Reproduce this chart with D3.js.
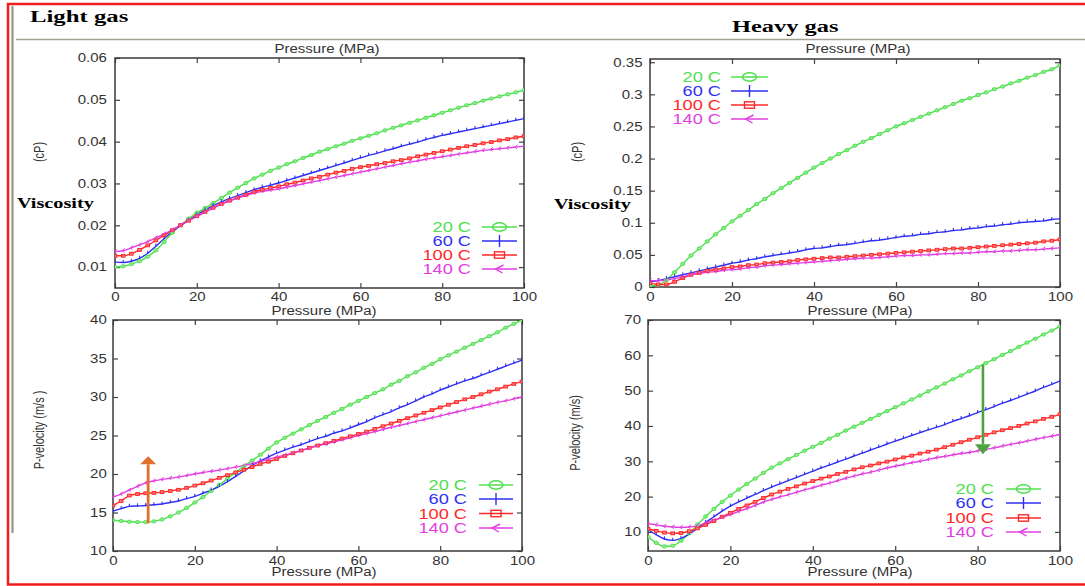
<!DOCTYPE html>
<html>
<head>
<meta charset="utf-8">
<script src="https://cdn.jsdelivr.net/npm/d3@7"></script>
<style>
  html, body { margin: 0; padding: 0; background: #fff; }
  svg { display: block; }
</style>
</head>
<body>
<svg id="fig" width="1085" height="586"></svg>
<script>
// ---------- data ----------
const pressure = [0,2,4,6,8,10,12,14,16,18,20,22,24,26,28,30,32,34,36,38,40,42,44,46,48,50,
  52,54,56,58,60,62,64,66,68,70,72,74,76,78,80,82,84,86,88,90,92,94,96,98,100];
const temperatures = ["20 C", "60 C", "100 C", "140 C"];
const xTicks = [0, 20, 40, 60, 80, 100];

// Light gas viscosity (cP)
const lightVisc20 = [.0100,.0102,.0107,.0114,.0125,.0140,.0160,.0182,.0200,.0216,.0230,.0241,.0253,.0265,.0278,.0290,.0301,.0312,.0321,.0330,.0338,
  .0346,.0353,.0361,.0368,.0376,.0382,.0389,.0395,.0402,.0408,.0414,.0420,.0427,.0433,.0439,.0445,.0451,.0457,.0463,.0469,
  .0475,.0481,.0487,.0492,.0498,.0503,.0508,.0513,.0518,.0523];
const lightVisc60 = [.0112,.0111,.0114,.0121,.0133,.0150,.0168,.0185,.0199,.0212,.0225,.0236,.0247,.0256,.0264,.0271,.0278,.0285,.0291,.0296,.0301,
  .0307,.0313,.0319,.0325,.0331,.0337,.0343,.0349,.0355,.0361,.0367,.0372,.0378,.0383,.0389,.0394,.0399,.0405,.0410,.0415,
  .0419,.0423,.0427,.0431,.0435,.0439,.0443,.0447,.0451,.0455];
const lightVisc100 = [.0127,.0127,.0132,.0141,.0152,.0164,.0176,.0188,.0200,.0211,.0222,.0232,.0242,.0251,.0259,.0266,.0273,.0280,.0285,.0289,.0293,
  .0298,.0302,.0307,.0312,.0316,.0321,.0326,.0330,.0335,.0339,.0342,.0346,.0349,.0353,.0356,.0360,.0365,.0369,.0373,.0377,
  .0381,.0385,.0389,.0392,.0396,.0399,.0403,.0406,.0410,.0413];
const lightVisc140 = [.0137,.0139,.0146,.0153,.0161,.0170,.0179,.0189,.0200,.0211,.0221,.0231,.0241,.0250,.0258,.0265,.0271,.0277,.0281,.0284,.0287,
  .0291,.0295,.0299,.0303,.0307,.0311,.0315,.0319,.0323,.0327,.0331,.0335,.0339,.0343,.0347,.0351,.0354,.0358,.0361,.0364,
  .0367,.0370,.0373,.0376,.0379,.0381,.0383,.0385,.0387,.0389];

// Heavy gas viscosity (cP)
const heavyVisc20 = [.002,.003,.011,.023,.036,.049,.060,.071,.082,.092,.102,.111,.120,.129,.137,.146,.154,.162,.170,.178,.186,
  .193,.200,.207,.213,.220,.226,.232,.238,.244,.250,.255,.260,.265,.270,.275,.280,.285,.290,.294,.299,
  .303,.308,.312,.317,.321,.326,.330,.335,.339,.345];
const heavyVisc60 = [.008,.010,.013,.016,.019,.022,.025,.028,.031,.034,.037,.039,.042,.044,.047,.049,.051,.053,.055,.058,.060,
  .061,.063,.065,.066,.068,.070,.072,.073,.075,.077,.079,.080,.082,.083,.085,.086,.088,.089,.091,.092,
  .094,.095,.097,.098,.100,.101,.102,.103,.105,.106];
const heavyVisc100 = [.006,.004,.004,.008,.014,.019,.022,.025,.027,.029,.031,.032,.034,.035,.037,.038,.039,.040,.042,.043,.044,
  .045,.046,.046,.047,.048,.049,.050,.051,.052,.053,.054,.055,.056,.057,.058,.059,.060,.060,.061,.062,
  .063,.064,.065,.066,.067,.068,.069,.071,.072,.074];
const heavyVisc140 = [.010,.010,.011,.013,.016,.019,.021,.023,.024,.026,.027,.028,.030,.031,.033,.034,.035,.036,.037,.038,.039,
  .040,.041,.042,.043,.044,.045,.045,.046,.047,.048,.049,.049,.050,.050,.051,.052,.052,.053,.053,.054,
  .055,.055,.056,.056,.057,.058,.058,.059,.060,.061];

// Light gas P-velocity (m/s)
const lightVel20 = [14.0,13.9,13.8,13.75,13.75,13.85,14.1,14.5,15.0,15.6,16.3,17.0,17.8,18.6,19.4,20.2,21.0,21.75,22.5,23.3,24.1,
  24.7,25.25,25.8,26.35,26.9,27.4,27.95,28.45,29.0,29.5,30.0,30.5,31.0,31.6,32.1,32.7,33.2,33.8,34.3,34.9,
  35.4,35.9,36.4,36.9,37.4,37.9,38.4,39.0,39.5,40.0];
const lightVel60 = [15.2,15.5,15.8,15.85,15.9,16.0,16.1,16.3,16.5,16.8,17.1,17.5,17.9,18.4,19.0,19.7,20.4,21.1,21.7,22.2,22.7,
  23.1,23.5,23.8,24.2,24.6,24.9,25.3,25.6,26.0,26.4,26.8,27.3,27.7,28.1,28.6,29.0,29.5,30.0,30.4,30.9,
  31.3,31.7,32.1,32.4,32.8,33.2,33.6,34.0,34.4,34.8];
const lightVel100 = [15.9,16.5,17.2,17.4,17.5,17.55,17.65,17.8,17.95,18.2,18.5,18.8,19.15,19.5,19.85,20.2,20.55,20.9,21.3,21.6,21.95,
  22.35,22.7,23.05,23.4,23.7,24.0,24.3,24.6,24.9,25.2,25.5,25.85,26.2,26.55,26.9,27.25,27.6,27.95,28.3,28.65,
  29.0,29.35,29.7,30.0,30.35,30.7,31.0,31.35,31.7,32.0];
const lightVel140 = [17.0,17.4,17.9,18.4,18.85,19.1,19.3,19.45,19.6,19.8,20.0,20.2,20.35,20.5,20.7,20.9,21.1,21.35,21.6,21.9,22.2,
  22.45,22.75,23.05,23.35,23.65,23.9,24.15,24.45,24.7,25.0,25.25,25.5,25.8,26.05,26.3,26.55,26.8,27.05,27.3,27.55,
  27.8,28.05,28.3,28.55,28.8,29.05,29.3,29.5,29.75,30.0];

// Heavy gas P-velocity (m/s)
const heavyVel20 = [8.6,6.9,5.9,6.1,7.5,9.6,12.1,14.4,16.5,18.5,20.3,22.0,23.6,25.1,26.7,28.2,29.4,30.6,31.8,33.0,34.1,
  35.2,36.4,37.5,38.7,39.8,40.9,42.0,43.1,44.2,45.3,46.4,47.5,48.6,49.8,50.9,52.0,53.2,54.3,55.5,56.6,
  57.8,58.9,60.1,61.2,62.4,63.6,64.7,65.9,67.0,68.2];
const heavyVel60 = [10.7,9.2,8.0,7.6,8.2,9.4,11.0,12.7,14.3,15.9,17.3,18.5,19.6,20.6,21.7,22.7,23.6,24.5,25.4,26.3,27.2,
  28.1,28.9,29.8,30.6,31.5,32.3,33.2,34.0,34.9,35.7,36.5,37.3,38.1,38.9,39.6,40.4,41.3,42.1,42.9,43.8,
  44.6,45.5,46.4,47.2,48.1,49.0,49.9,50.9,51.8,52.7];
const heavyVel100 = [10.9,10.3,9.8,9.6,9.7,10.2,11.0,12.0,13.1,14.3,15.4,16.5,17.5,18.5,19.6,20.6,21.4,22.2,22.9,23.7,24.4,
  25.1,25.7,26.4,27.0,27.7,28.3,28.8,29.4,29.9,30.5,31.1,31.6,32.2,32.7,33.3,34.0,34.7,35.4,36.1,36.8,
  37.5,38.2,38.8,39.4,40.0,40.7,41.3,42.0,42.6,43.3];
const heavyVel140 = [12.3,12.0,11.6,11.4,11.3,11.4,11.8,12.5,13.3,14.1,14.9,15.8,16.6,17.5,18.4,19.2,19.9,20.5,21.2,21.9,22.5,
  23.2,23.8,24.5,25.2,25.8,26.4,26.9,27.5,28.1,28.6,29.1,29.6,30.0,30.5,31.0,31.4,31.8,32.2,32.5,32.9,
  33.4,33.8,34.3,34.8,35.2,35.7,36.2,36.7,37.1,37.6];

// Axis ticks
const lightViscTicks = [0.01, 0.02, 0.03, 0.04, 0.05, 0.06];
const heavyViscTicks = [0, 0.05, 0.1, 0.15, 0.2, 0.25, 0.3, 0.35];
const lightVelTicks = [10, 15, 20, 25, 30, 35, 40];
const heavyVelTicks = [10, 20, 30, 40, 50, 60, 70];

// ---------- styling ----------
const colors = ["#4ee04e", "#2f2ff3", "#ff2828", "#e23ee2"];
const SANS = "'Liberation Sans', Arial, Helvetica, sans-serif";
const SERIF = "'Liberation Serif', 'Times New Roman', serif";
const SX = 1.25; // horizontal text stretch of the figure

const svg = d3.select("#fig");

function txt(g, x, y, s, o = {}) {
  const rot = o.rotate ? ` rotate(${o.rotate})` : "";
  return g.append("text")
    .attr("transform", `translate(${x},${y}) scale(${o.sx ?? SX},1)${rot}`)
    .attr("text-anchor", o.anchor || "middle")
    .attr("dominant-baseline", "central")
    .attr("font-family", o.family || SANS)
    .attr("font-size", o.size || 12)
    .attr("font-weight", o.weight || "normal")
    .attr("fill", o.fill || "#333")
    .text(s);
}

// ---------- page decoration ----------
svg.append("line").attr("x1", 12.5).attr("y1", 6).attr("x2", 12.5).attr("y2", 533)
  .attr("stroke", "#8e8e80").attr("stroke-width", 2);
svg.append("line").attr("x1", 16).attr("y1", 39.5).attr("x2", 1085).attr("y2", 39.5)
  .attr("stroke", "#a2a294").attr("stroke-width", 1.5);
svg.append("path").attr("d", "M1085,4 H8 V584.5 H1085")
  .attr("fill", "none").attr("stroke", "#f21c1c").attr("stroke-width", 2.5);

txt(svg, 30, 17, "Light gas", { family: SERIF, weight: "bold", size: 16.5, anchor: "start", sx: 1.5, fill: "#000" });
txt(svg, 732, 26, "Heavy gas", { family: SERIF, weight: "bold", size: 16.5, anchor: "start", sx: 1.48, fill: "#000" });

// ---------- marker shapes ----------
function curveMarker(g, i, x, y) {
  const c = colors[i];
  if (i === 0) {
    g.append("ellipse").attr("cx", x).attr("cy", y).attr("rx", 2.1).attr("ry", 1.6)
      .attr("fill", "#8cf08c").attr("stroke", c).attr("stroke-width", 1);
  } else if (i === 1) {
    g.append("line").attr("x1", x).attr("x2", x).attr("y1", y - 2.6).attr("y2", y + 0.6)
      .attr("stroke", c).attr("stroke-width", 1.1);
  } else if (i === 2) {
    g.append("rect").attr("x", x - 1.8).attr("y", y - 1.4).attr("width", 3.6).attr("height", 2.8)
      .attr("fill", "#ff7a7a").attr("stroke", c).attr("stroke-width", 1);
  } else {
    g.append("path").attr("d", `M${x + 1.8},${y - 2.2} L${x - 1.2},${y} L${x + 1.2},${y + 1.6}`)
      .attr("fill", "none").attr("stroke", c).attr("stroke-width", 1);
  }
}

function legendMarker(g, i, x, y) {
  const c = colors[i];
  if (i === 0) {
    g.append("ellipse").attr("cx", x).attr("cy", y).attr("rx", 7).attr("ry", 4.2)
      .attr("fill", "none").attr("stroke", c).attr("stroke-width", 1.4);
  } else if (i === 1) {
    g.append("line").attr("x1", x).attr("x2", x).attr("y1", y - 6).attr("y2", y + 6)
      .attr("stroke", c).attr("stroke-width", 1.4);
  } else if (i === 2) {
    g.append("rect").attr("x", x - 5).attr("y", y - 3.2).attr("width", 10).attr("height", 6.4)
      .attr("fill", "none").attr("stroke", c).attr("stroke-width", 1.4);
  } else {
    g.append("path").attr("d", `M${x + 4},${y - 4} L${x - 4},${y} L${x + 3},${y + 4}`)
      .attr("fill", "none").attr("stroke", c).attr("stroke-width", 1.4);
  }
}

// ---------- panels ----------
const panels = [
  { id: "lv", xr: [115, 524], yd: [0.005, 0.06], yr: [288, 58], yticks: lightViscTicks,
    fmt: d => String(+d.toFixed(2)),
    series: [lightVisc20, lightVisc60, lightVisc100, lightVisc140],
    xPad: 4, yPad: 6.5,
    legend: { right: 471, lx0: 482, lx1: 517, rows: [227, 241, 255, 269] } },
  { id: "hv", xr: [650, 1060], yd: [0, 0.355], yr: [287, 59], yticks: heavyViscTicks,
    fmt: d => String(+d.toFixed(2)),
    series: [heavyVisc20, heavyVisc60, heavyVisc100, heavyVisc140],
    xPad: 5, yPad: 6,
    legend: { right: 721, lx0: 731, lx1: 768, rows: [77, 91, 105, 119] } },
  { id: "lp", xr: [113, 522], yd: [10, 40], yr: [551, 320], yticks: lightVelTicks,
    fmt: d3.format("d"),
    series: [lightVel20, lightVel60, lightVel100, lightVel140],
    xPad: 5, yPad: 5,
    legend: { right: 467, lx0: 479, lx1: 513, rows: [485, 499, 513.5, 528] } },
  { id: "hp", xr: [648, 1060], yd: [4.6, 70], yr: [551, 320], yticks: heavyVelTicks,
    fmt: d3.format("d"),
    series: [heavyVel20, heavyVel60, heavyVel100, heavyVel140],
    xPad: 5, yPad: 5.6,
    legend: { right: 994, lx0: 1006, lx1: 1041, rows: [489, 503, 518, 532] } }
];

const scales = {};

panels.forEach(p => {
  const x = d3.scaleLinear().domain([0, 100]).range(p.xr);
  const y = d3.scaleLinear().domain(p.yd).range(p.yr);
  scales[p.id] = { x, y };
  const g = svg.append("g");

  svg.append("clipPath").attr("id", "clip-" + p.id).append("rect")
    .attr("x", p.xr[0]).attr("y", p.yr[1]).attr("width", p.xr[1] - p.xr[0]).attr("height", p.yr[0] - p.yr[1]);

  // axes with inward ticks on all four sides
  const styleAxis = sel => {
    sel.select(".domain").remove();
    sel.selectAll(".tick line").attr("stroke", "#444").attr("stroke-width", 1.2);
    sel.selectAll(".tick text").attr("font-family", SANS).attr("font-size", 12).attr("fill", "#333");
  };
  g.append("g").attr("transform", `translate(0,${p.yr[0]})`)
    .call(d3.axisBottom(x).tickValues(xTicks).tickSize(-5).tickPadding(p.xPad).tickFormat(d3.format("d")))
    .call(styleAxis)
    .selectAll(".tick text").attr("transform", `scale(${SX},1)`);
  g.append("g").attr("transform", `translate(0,${p.yr[1]})`)
    .call(d3.axisTop(x).tickValues(xTicks).tickSize(-5).tickFormat(""))
    .call(styleAxis);
  g.append("g").attr("transform", `translate(${p.xr[0]},0)`)
    .call(d3.axisLeft(y).tickValues(p.yticks).tickSize(-5).tickPadding(p.yPad).tickFormat(p.fmt))
    .call(styleAxis)
    .selectAll(".tick text").attr("transform", `scale(${SX},1)`);
  g.append("g").attr("transform", `translate(${p.xr[1]},0)`)
    .call(d3.axisRight(y).tickValues(p.yticks).tickSize(-5).tickFormat(""))
    .call(styleAxis);

  // frame
  g.append("rect").attr("x", p.xr[0]).attr("y", p.yr[1])
    .attr("width", p.xr[1] - p.xr[0]).attr("height", p.yr[0] - p.yr[1])
    .attr("fill", "none").attr("stroke", "#3a3a3a").attr("stroke-width", 1.5);

  // curves with point markers
  const plot = g.append("g").attr("clip-path", `url(#clip-${p.id})`);
  const line = d3.line().x((d, i) => x(pressure[i])).y(d => y(d)).curve(d3.curveMonotoneX);
  p.series.forEach((vals, i) => {
    plot.append("path").attr("d", line(vals)).attr("fill", "none")
      .attr("stroke", colors[i]).attr("stroke-width", 1.4);
  });
  p.series.forEach((vals, i) => {
    const mg = plot.append("g");
    vals.forEach((v, k) => curveMarker(mg, i, x(pressure[k]), y(v)));
  });

  // legend
  const L = p.legend;
  temperatures.forEach((t, i) => {
    txt(g, L.right, L.rows[i], t, { anchor: "end", size: 14, sx: 1.3, fill: colors[i] });
    g.append("line").attr("x1", L.lx0).attr("x2", L.lx1).attr("y1", L.rows[i]).attr("y2", L.rows[i])
      .attr("stroke", colors[i]).attr("stroke-width", 1.5);
    legendMarker(g, i, (L.lx0 + L.lx1) / 2, L.rows[i]);
  });
});

// ---------- axis titles ----------
txt(svg, 327, 49, "Pressure (MPa)");
txt(svg, 858, 49, "Pressure (MPa)");
txt(svg, 324, 311, "Pressure (MPa)");
txt(svg, 860, 311, "Pressure (MPa)");
txt(svg, 324, 572, "Pressure (MPa)");
txt(svg, 860, 572, "Pressure (MPa)");

txt(svg, 40, 152, "(cP)", { rotate: -90, size: 11 });
txt(svg, 578, 152, "(cP)", { rotate: -90, size: 11 });
txt(svg, 40, 430, "P-velocity (m/s )", { rotate: -90, size: 11 });
txt(svg, 576, 433, "P-velocity (m/s)", { rotate: -90, size: 11 });

txt(svg, 17, 203, "Viscosity", { family: SERIF, weight: "bold", size: 15, anchor: "start", sx: 1.35, fill: "#000" });
txt(svg, 554, 204, "Viscosity", { family: SERIF, weight: "bold", size: 15, anchor: "start", sx: 1.35, fill: "#000" });

// ---------- temperature-trend arrows ----------
function arrow(s, P, vFrom, vTo, color, headLen, headW, width) {
  const ax = s.x(P), y0 = s.y(vFrom), y1 = s.y(vTo);
  const dir = Math.sign(y1 - y0);
  svg.append("line").attr("x1", ax).attr("x2", ax).attr("y1", y0).attr("y2", y1 - dir * headLen)
    .attr("stroke", color).attr("stroke-width", width);
  svg.append("path")
    .attr("d", `M${ax - headW / 2},${y1 - dir * headLen} L${ax + headW / 2},${y1 - dir * headLen} L${ax},${y1} Z`)
    .attr("fill", color);
}
arrow(scales.lp, 8.6, 13.6, 22.3, "#e2702c", 8, 16, 2.8);
arrow(scales.hp, 81.3, 57.4, 32.0, "#4ea33e", 10, 16, 2.6);
</script>
</body>
</html>
